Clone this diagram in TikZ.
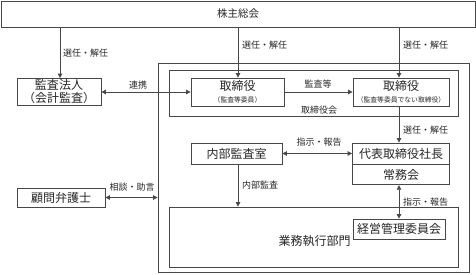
\documentclass[tikz,border=0pt]{standalone}
\usepackage{fontspec}
\setmainfont{Noto Sans CJK JP}
\usetikzlibrary{arrows.meta}
\begin{document}
\begin{tikzpicture}[x=1pt,y=-1pt,
  line/.style={draw=black!72,line width=0.8pt},
  box/.style={line,rectangle,inner sep=0pt,font=\fontsize{12}{13}\selectfont,text=black!85},
  lbl/.style={inner sep=0pt,font=\fontsize{9}{10}\selectfont,text=black!85},
  arr/.style={line,-{Triangle[length=4.5pt,width=4.5pt]}},
  darr/.style={line,{Triangle[length=4.5pt,width=4.5pt]}-{Triangle[length=4.5pt,width=4.5pt]}}]
\useasboundingbox (0,0) rectangle (476,274);
% frames
\node[line,rectangle,inner sep=0pt,minimum width=311pt,minimum height=209pt] (outer) at (313.5,167.5) {};
\node[line,rectangle,inner sep=0pt,minimum width=289pt,minimum height=46pt] (board) at (313.5,93) {};
\node[line,rectangle,inner sep=0pt,minimum width=289pt,minimum height=60pt] (gyomu) at (313.5,237) {};
% boxes
\node[box,minimum width=474pt,minimum height=26pt,font=\fontsize{10.5}{12}\selectfont] (top) at (238,14) {株主総会};
\node[box,minimum width=84pt,minimum height=27pt,align=center] (kansa) at (59,92) {監査法人\\（会計監査）};
\node[box,minimum width=93pt,minimum height=28pt,align=center] (tori1) at (237.5,92) {取締役\\[-1pt]{\fontsize{6.8}{7}\selectfont （監査等委員）}};
\node[box,minimum width=96pt,minimum height=28pt,align=center] (tori2) at (401,92) {取締役\\[-1pt]{\fontsize{6.8}{7}\selectfont （監査等委員でない取締役）}};
\node[box,minimum width=91pt,minimum height=21pt] (naibu) at (236.5,153.5) {内部監査室};
\node[box,minimum width=97pt,minimum height=21pt] (daihyo) at (401,153.5) {代表取締役社長};
\node[box,minimum width=97pt,minimum height=20pt,anchor=north] (jomu) at (daihyo.south) {常務会};
\node[box,minimum width=92pt,minimum height=20pt] (keiei) at (399,229) {経営管理委員会};
\node[box,minimum width=88pt,minimum height=19pt] (komon) at (61,197.5) {顧問弁護士};
\node[box,draw=none,anchor=east] (gyomulbl) at (351,241) {業務執行部門};
\node[lbl] (boardlbl) at (319,110) {取締役会};
% connectors
\coordinate (c1) at (60,0);
\coordinate (c2) at (238,0);
\coordinate (c3) at (399,0);
\draw[arr] (top.south -| c1) -- (kansa.north -| c1);
\draw[arr] (top.south -| c2) -- (tori1.north -| c2);
\draw[arr] (top.south -| c3) -- (tori2.north -| c3);
\node[lbl,anchor=west] at (63,53) {選任・解任};
\node[lbl,anchor=west] at (242,45) {選任・解任};
\node[lbl,anchor=west] at (403,45) {選任・解任};
\draw[darr] (kansa.east) -- (tori1.west);
\node[lbl] at (138,85) {連携};
\draw[arr] (tori1.east) -- (tori2.west);
\node[lbl] at (318,84) {監査等};
\draw[arr] (tori2.south -| c3) -- (daihyo.north -| c3);
\node[lbl,anchor=west] at (403,130) {選任・解任};
\draw[darr] (naibu.east) -- (naibu.east -| daihyo.west);
\node[lbl] at (319,142) {指示・報告};
\draw[arr] (naibu.south -| c2) -- (gyomu.north -| c2);
\node[lbl,anchor=west] at (242,185) {内部監査};
\draw[darr] (jomu.south -| keiei.north) -- (keiei.north);
\node[lbl,anchor=west] at (403,202) {指示・報告};
\draw[darr] (komon.east) -- (komon.east -| outer.west);
\node[lbl] at (132,187) {相談・助言};
\end{tikzpicture}
\end{document}
